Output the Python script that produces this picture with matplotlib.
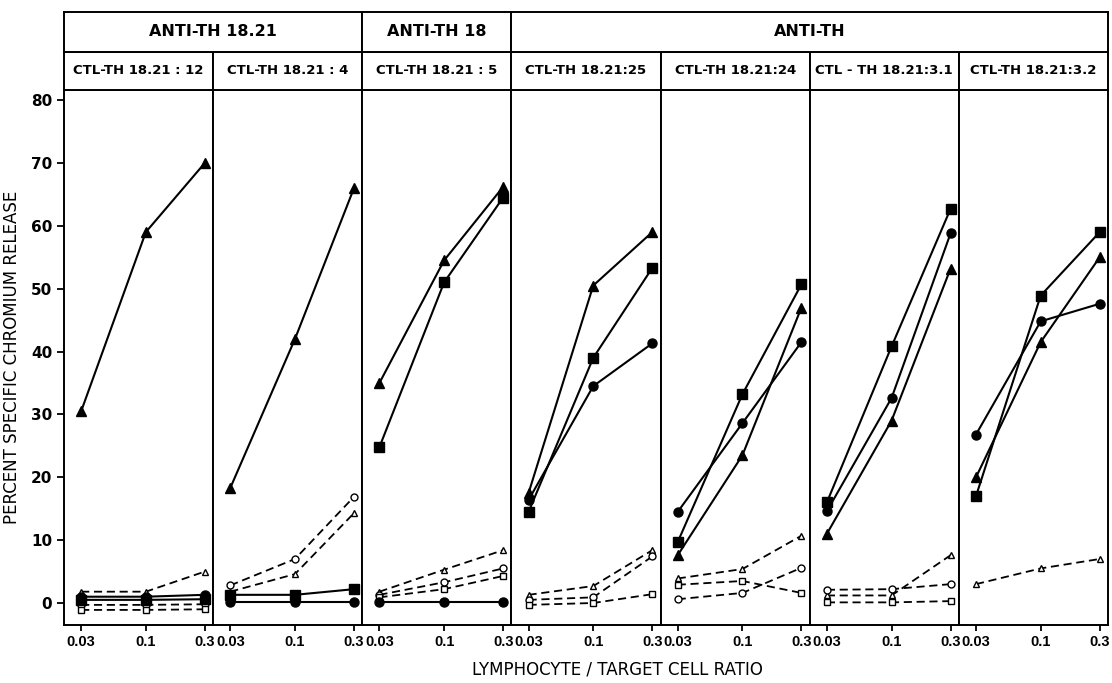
"""Chromium release by CTL-TH clones against anti-TH targets, seven panels."""

import matplotlib.pyplot as plt

RATIOS = [0.03, 0.1, 0.3]
RATIO_LABELS = ["0.03", "0.1", "0.3"]
Y_TICKS = list(range(0, 81, 10))

GROUP_TITLES = ["ANTI-TH 18.21", "ANTI-TH 18", "ANTI-TH"]
GROUP_SPANS = [2, 1, 4]
PANEL_TITLES = [
    "CTL-TH 18.21 : 12",
    "CTL-TH 18.21 : 4",
    "CTL-TH 18.21 : 5",
    "CTL-TH 18.21:25",
    "CTL-TH 18.21:24",
    "CTL - TH 18.21:3.1",
    "CTL-TH 18.21:3.2",
]

# one entry per panel, None where the series is not drawn
filled_triangle = [
    [30.5, 59.0, 70.0],
    [18.3, 42.0, 66.0],
    [35.0, 54.5, 66.2],
    [17.5, 50.5, 59.0],
    [7.6, 23.5, 47.0],
    [11.0, 29.0, 53.2],
    [20.0, 41.5, 55.0],
]
filled_square = [
    [0.5, 0.5, 0.6],
    [1.3, 1.3, 2.2],
    [24.8, 51.0, 64.5],
    [14.5, 39.0, 53.3],
    [9.7, 33.2, 50.7],
    [16.0, 40.8, 62.7],
    [17.0, 48.9, 59.0],
]
filled_circle = [
    [1.0, 1.0, 1.3],
    [0.2, 0.2, 0.2],
    [0.2, 0.2, 0.2],
    [16.4, 34.5, 41.3],
    [14.5, 28.6, 41.5],
    [14.6, 32.6, 58.8],
    [26.8, 44.8, 47.6],
]
open_triangle = [
    [1.8, 1.8, 5.0],
    [1.8, 4.6, 14.3],
    [1.8, 5.3, 8.4],
    [1.3, 2.7, 8.4],
    [3.9, 5.4, 10.7],
    [1.2, 1.2, 7.6],
    [3.0, 5.5, 7.0],
]
open_circle = [
    [-0.3, -0.3, -0.2],
    [2.8, 7.0, 16.9],
    [1.3, 3.3, 5.5],
    [0.5, 0.9, 7.4],
    [0.6, 1.6, 5.6],
    [2.1, 2.2, 3.0],
    None,
]
open_square = [
    [-1.1, -1.1, -1.0],
    None,
    [0.9, 2.2, 4.3],
    [-0.3, 0.0, 1.4],
    [2.9, 3.5, 1.6],
    [0.1, 0.1, 0.3],
    None,
]

SERIES = [
    (filled_triangle, "^", True),
    (filled_square, "s", True),
    (filled_circle, "o", True),
    (open_triangle, "^", False),
    (open_circle, "o", False),
    (open_square, "s", False),
]

WIDTH, HEIGHT = 1112, 683
LEFT, RIGHT = 64, 1108
TOP, ROW_SPLIT, PLOT_TOP, PLOT_BOTTOM = 12, 52, 90, 625
FRAME_LW = 1.4


def fig_box(x0, y0, x1, y1):
    """Pixel box (top-left origin) to figure fraction rectangle."""
    return [x0 / WIDTH, 1 - y1 / HEIGHT, (x1 - x0) / WIDTH, (y1 - y0) / HEIGHT]


def header_cell(figure, x0, y0, x1, y1, text, size):
    axis = figure.add_axes(fig_box(x0, y0, x1, y1))
    axis.set_xticks([])
    axis.set_yticks([])
    for spine in axis.spines.values():
        spine.set_linewidth(FRAME_LW)
    axis.text(0.5, 0.5, text, ha="center", va="center",
              fontsize=size, fontweight="bold", transform=axis.transAxes)


plt.rcParams["font.family"] = ["DejaVu Sans"]
figure = plt.figure(figsize=(WIDTH / 100, HEIGHT / 100), dpi=100)
panel_w = (RIGHT - LEFT) / len(PANEL_TITLES)

for panel_id, title in enumerate(PANEL_TITLES):
    x0 = LEFT + panel_id * panel_w
    axis = figure.add_axes(fig_box(x0, PLOT_TOP, x0 + panel_w, PLOT_BOTTOM))
    for values, marker, filled in SERIES:
        row = values[panel_id]
        if row is None:
            continue
        axis.plot(
            RATIOS,
            row,
            color="black",
            linestyle="-" if filled else (0, (4.5, 2.6)),
            linewidth=1.5 if filled else 1.3,
            marker=marker,
            markersize=(7.5 if marker == "^" else 6.5) if filled else 5,
            markerfacecolor="black" if filled else "white",
            markeredgecolor="black",
            markeredgewidth=1.0,
            clip_on=False,
            zorder=3 if filled else 2,
        )
    axis.set_xscale("log")
    axis.set_xlim(0.0218, 0.35)
    axis.set_ylim(-3.5, 81.6)
    axis.set_xticks(RATIOS)
    axis.set_xticklabels(RATIO_LABELS, fontsize=10.5, fontweight="bold",
                         family="Liberation Sans")
    axis.xaxis.set_minor_locator(plt.NullLocator())
    axis.tick_params(axis="x", direction="out", length=4, width=1.3, pad=3)
    for spine in axis.spines.values():
        spine.set_linewidth(FRAME_LW)
    if panel_id == 0:
        axis.set_yticks(Y_TICKS)
        axis.set_yticklabels([str(v) for v in Y_TICKS],
                             fontsize=11, fontweight="bold")
        axis.tick_params(axis="y", direction="out", length=5, width=1.3)
        axis.set_ylabel("PERCENT SPECIFIC CHROMIUM RELEASE", fontsize=12,
                        labelpad=7)
    else:
        axis.set_yticks([])
    header_cell(figure, x0, ROW_SPLIT, x0 + panel_w, PLOT_TOP, title, 9.5)

start = 0
for group_title, span in zip(GROUP_TITLES, GROUP_SPANS):
    x0 = LEFT + start * panel_w
    x1 = LEFT + (start + span) * panel_w
    header_cell(figure, x0, TOP, x1, ROW_SPLIT, group_title, 11.5)
    start += span

figure.text(617 / WIDTH, 1 - 669 / HEIGHT,
            "LYMPHOCYTE / TARGET CELL RATIO", ha="center", va="center",
            fontsize=12)

figure.savefig("out.png", dpi=100)
plt.close(figure)
